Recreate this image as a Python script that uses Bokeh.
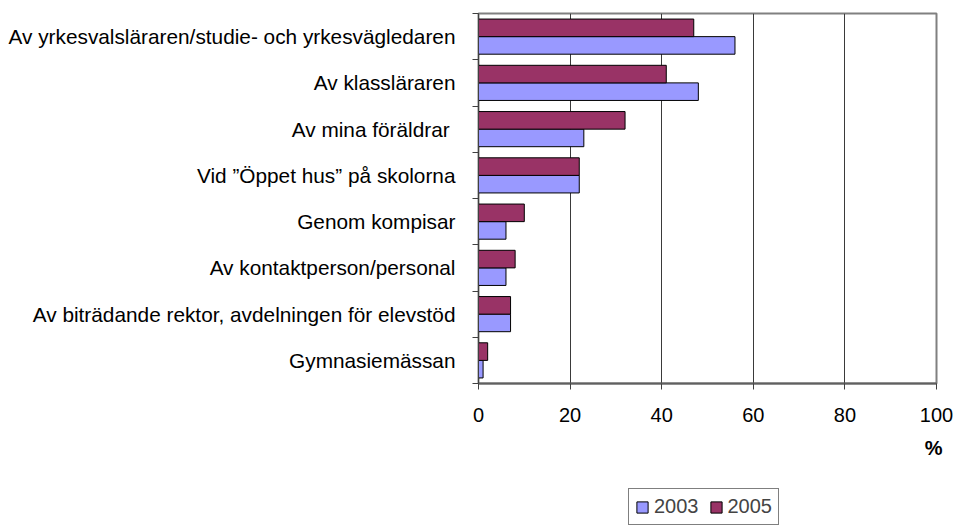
from bokeh.plotting import figure
from bokeh.layouts import column
from bokeh.models import (ColumnDataSource, Range1d, FixedTicker, Legend, LegendItem, Title)
from bokeh.transform import dodge
from bokeh.embed import file_html
from bokeh.resources import INLINE

categories = [
    "Av yrkesvalsläraren/studie- och yrkesvägledaren",
    "Av klassläraren",
    "Av mina föräldrar ",
    "Vid \u201dÖppet hus\u201d på skolorna",
    "Genom kompisar",
    "Av kontaktperson/personal",
    "Av biträdande rektor, avdelningen för elevstöd",
    "Gymnasiemässan",
]
values_2003 = [56, 48, 23, 22, 6, 6, 7, 1]
values_2005 = [47, 41, 32, 22, 10, 8, 7, 2]
x_ticks = [0, 20, 40, 60, 80, 100]
series_names = ["2003", "2005"]
colors = {"2003": "#9999FF", "2005": "#993366"}
unit_label = "%"

FONT = "Liberation Sans"
n = len(categories)
centers = [n - i - 0.5 for i in range(n)]
boundaries = list(range(n + 1))

src = ColumnDataSource(dict(y=centers, v2003=values_2003, v2005=values_2005, cat=categories))

H_MAIN = 480
p = figure(width=956, height=H_MAIN, output_backend="svg", toolbar_location=None,
           x_range=Range1d(0, 100), y_range=Range1d(0, n),
           min_border_left=478, min_border_right=20, min_border_top=13,
           min_border_bottom=H_MAIN - 13 - 370)
p.background_fill_color = "white"
p.border_fill_color = "white"
p.outline_line_color = "#808080"
p.outline_line_width = 2

r03 = p.hbar(y=dodge("y", -0.19, range=p.y_range), right="v2003", left=0, height=0.38, source=src,
             fill_color=colors["2003"], line_color="black", line_width=1)
r05 = p.hbar(y=dodge("y", 0.19, range=p.y_range), right="v2005", left=0, height=0.38, source=src,
             fill_color=colors["2005"], line_color="black", line_width=1)

# x axis
xa = p.xaxis[0]
xa.ticker = FixedTicker(ticks=x_ticks)
xa.major_tick_out = 6
xa.major_tick_in = 0
xa.minor_tick_line_color = None
xa.axis_line_color = "#606060"
xa.axis_line_width = 2
xa.major_tick_line_color = "#404040"
xa.major_label_text_font = FONT
xa.major_label_text_font_size = "20px"
xa.major_label_text_color = "black"
xa.major_label_standoff = 18

# y axis
ya = p.yaxis[0]
ya.ticker = FixedTicker(ticks=centers, minor_ticks=boundaries)
ya.major_label_overrides = {c: lab for c, lab in zip(centers, categories)}
ya.major_tick_out = 0
ya.major_tick_in = 0
ya.minor_tick_out = 6
ya.minor_tick_in = 0
ya.minor_tick_line_color = "#404040"
ya.axis_line_color = "#404040"
ya.axis_line_width = 1
ya.major_label_text_font = FONT
ya.major_label_text_font_size = "20.8px"
ya.major_label_text_color = "black"
ya.major_label_standoff = 17

p.xgrid.ticker = FixedTicker(ticks=x_ticks[1:-1])
p.xgrid.grid_line_color = "#3a3a3a"
p.xgrid.grid_line_width = 1
p.ygrid.grid_line_color = None

pct = Title(text=unit_label, align="right", offset=-6, standoff=21, text_font=FONT,
            text_font_size="20px", text_font_style="bold", text_color="black")
p.add_layout(pct, "below")

# legend strip below the chart (its frame is aligned with the chart's frame by the column)
H_LEG = 525 - H_MAIN
pl = figure(width=956, height=H_LEG, output_backend="svg", toolbar_location=None,
            x_range=Range1d(0, 100), y_range=Range1d(0, n),
            x_axis_location=None, y_axis_location=None,
            min_border_left=478, min_border_right=20, min_border_top=0, min_border_bottom=0)
pl.outline_line_color = None
pl.grid.grid_line_color = None
# hidden copies of the two series: they only supply the legend swatches
l03 = pl.hbar(y="y", right="v2003", left=0, height=0.38, source=src, visible=False,
              fill_color=colors["2003"], line_color="black", line_width=1)
l05 = pl.hbar(y="y", right="v2005", left=0, height=0.38, source=src, visible=False,
              fill_color=colors["2005"], line_color="black", line_width=1)
legend = Legend(items=[LegendItem(label=series_names[0], renderers=[l03], index=0),
                       LegendItem(label=series_names[1], renderers=[l05], index=0)],
                orientation="horizontal", location=(150, 0),
                glyph_width=14, glyph_height=14, label_height=20, label_standoff=5,
                spacing=10, padding=6, margin=0,
                label_text_font=FONT, label_text_font_size="20px",
                border_line_color="black", border_line_width=1,
                background_fill_color="white", background_fill_alpha=1,
                inactive_fill_alpha=0)
pl.add_layout(legend, "center")

layout = column(p, pl, spacing=0)
open("out.html", "w").write(file_html(layout, INLINE))
